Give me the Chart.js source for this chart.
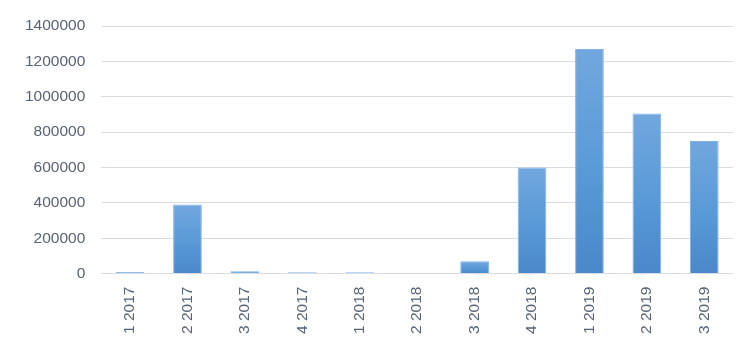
<!DOCTYPE html>
<html>
<head>
<meta charset="utf-8">
<script src="https://cdn.jsdelivr.net/npm/chart.js@4"></script>
<style>
	html, body { margin: 0; padding: 0; background: #fff; }
	#wrap { width: 737px; height: 353px; }
</style>
</head>
<body>
<div id="wrap"><canvas id="chart"></canvas></div>
<script>
'use strict';

var categories = ['1 2017', '2 2017', '3 2017', '4 2017', '1 2018', '2 2018', '3 2018', '4 2018', '1 2019', '2 2019', '3 2019'];
var values = [9000, 390000, 13000, 8000, 8000, 0, 70000, 600000, 1270000, 905000, 750000];
var yTicks = [0, 200000, 400000, 600000, 800000, 1000000, 1200000, 1400000];

function barFill(context) {
	var chart = context.chart;
	var y = chart.scales.y;
	if (!chart.chartArea || !y || context.type !== 'data') {
		return '#5b9bd5';
	}
	var top = y.getPixelForValue(context.raw);
	var bottom = y.getPixelForValue(0);
	if (bottom - top < 1) {
		top = bottom - 1;
	}
	var g = chart.ctx.createLinearGradient(0, top, 0, bottom);
	g.addColorStop(0, '#71a7de');
	g.addColorStop(0.5, '#5b9bd8');
	g.addColorStop(1, '#4a88c9');
	return g;
}

var config = {
	type: 'bar',
	data: {
		labels: categories,
		datasets: [{
			data: values,
			backgroundColor: barFill,
			borderColor: '#7fb3e6',
			borderWidth: 1,
			categoryPercentage: 1,
			barPercentage: 0.5
		}]
	},
	options: {
		responsive: true,
		maintainAspectRatio: false,
		animation: false,
		layout: { padding: { top: 26, right: 4, left: 9, bottom: 6 } },
		plugins: {
			legend: { display: false },
			tooltip: { enabled: false }
		},
		scales: {
			x: {
				grid: { display: false, drawTicks: false },
				border: { display: false },
				ticks: {
					color: '#586374',
					font: { family: 'Liberation Sans', size: 15.5 },
					minRotation: 90,
					maxRotation: 90,
					padding: 13
				}
			},
			y: {
				min: 0,
				max: 1400000,
				afterBuildTicks: function (axis) {
					axis.ticks = yTicks.map(function (v) { return { value: v }; });
				},
				grid: { color: '#d9dde3', lineWidth: 1, drawTicks: false },
				border: { display: false },
				ticks: {
					color: '#586374',
					font: { family: 'Liberation Sans', size: 15.5 },
					padding: 16,
					callback: function (v) { return String(v); }
				}
			}
		}
	}
};

new Chart(document.getElementById('chart'), config);
</script>
</body>
</html>
